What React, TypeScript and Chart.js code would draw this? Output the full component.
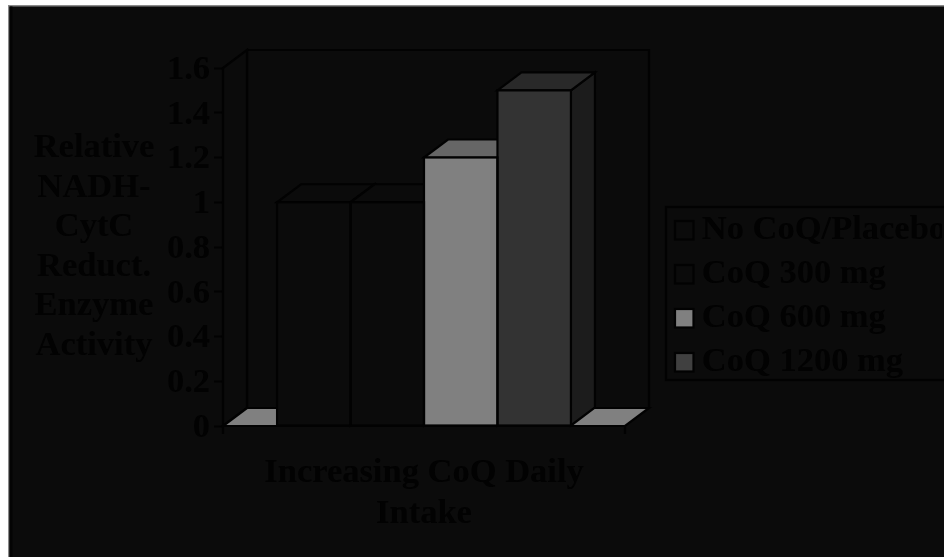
import React, { useEffect, useRef } from "react";
import { Chart, registerables } from "chart.js";

Chart.register(...registerables);

const categories = ["Increasing CoQ Daily Intake"];
const seriesLabels = ["No CoQ/Placebo", "CoQ 300 mg", "CoQ 600 mg", "CoQ 1200 mg"];
const seriesValues = [[1], [1], [1.2], [1.5]];
const frontColors = ["#0b0b0b", "#0b0b0b", "#808080", "#333333"];
const topColors = ["#0b0b0b", "#0b0b0b", "#666666", "#292929"];
const sideColors = ["#0b0b0b", "#0b0b0b", "#404040", "#1c1c1c"];
const swatchColors = ["#0b0b0b", "#0b0b0b", "#808080", "#404040"];
const yAxisTitleLines = ["Relative", "NADH-", "CytC", "Reduct.", "Enzyme", "Activity"];
const xAxisTitleLines = ["Increasing CoQ Daily", "Intake"];

const BG = "#0b0b0b";
const INK = "#020202";
const FONT = '"Liberation Serif", serif';
const FONT_SIZE = 34.5;
const DEPTH_X = 24;
const DEPTH_Y = -18;
const STROKE = 2.2;

type Pt = [number, number];

function poly(ctx: CanvasRenderingContext2D, pts: Pt[], fill: string) {
  ctx.beginPath();
  pts.forEach(([x, y], i) => (i ? ctx.lineTo(x, y) : ctx.moveTo(x, y)));
  ctx.closePath();
  ctx.fillStyle = fill;
  ctx.fill();
  ctx.lineWidth = STROKE;
  ctx.strokeStyle = INK;
  ctx.lineJoin = "miter";
  ctx.stroke();
}

// Page edge, walls and floor of the 3D box behind the columns, then column tops and sides.
const boxPlugin = {
  id: "box3d",
  afterLayout(chart: any) {
    const legend = chart.legend;
    const w = legend.right - legend.left;
    const h = legend.bottom - legend.top;
    legend.left = 655;
    legend.right = legend.left + w;
    legend.top = 198;
    legend.bottom = legend.top + h;
    legend.adjustHitBoxes();
  },
  beforeDatasetsDraw(chart: any) {
    const { ctx, chartArea: a } = chart;
    const { left: l, right: r, top: t, bottom: b } = a;
    const dx = DEPTH_X;
    const dy = DEPTH_Y;
    ctx.save();
    ctx.fillStyle = "#8a8a8a";
    ctx.fillRect(0, 0, chart.width, 1.5);
    ctx.fillRect(0, 0, 1.5, chart.height);
    ctx.fillStyle = "#040404";
    ctx.fillRect(1.5, 1.5, 3, chart.height);
    poly(ctx, [[l + dx, t + dy], [r + dx, t + dy], [r + dx, b + dy], [l + dx, b + dy]], BG);
    poly(ctx, [[l, t], [l + dx, t + dy], [l + dx, b + dy], [l, b]], BG);
    poly(ctx, [[l, b], [l + dx, b + dy], [r + dx, b + dy], [r, b]], "#808080");

    chart.data.datasets.forEach((_: any, i: number) => {
      const bar = chart.getDatasetMeta(i).data[0];
      const x0 = bar.x - bar.width / 2;
      const x1 = bar.x + bar.width / 2;
      poly(ctx, [[x1, bar.base], [x1 + dx, bar.base + dy], [x1 + dx, bar.y + dy], [x1, bar.y]], sideColors[i]);
      poly(ctx, [[x0, bar.y], [x0 + dx, bar.y + dy], [x1 + dx, bar.y + dy], [x1, bar.y]], topColors[i]);
    });
    ctx.restore();
  },
  afterDatasetsDraw(chart: any) {
    const { ctx, chartArea: a } = chart;
    ctx.save();
    ctx.strokeStyle = INK;
    ctx.lineWidth = STROKE;
    // Centred outlines, so neighbouring columns share one separator line.
    chart.data.datasets.forEach((_: any, i: number) => {
      const bar = chart.getDatasetMeta(i).data[0];
      ctx.strokeRect(bar.x - bar.width / 2, bar.y, bar.width, bar.base - bar.y);
    });
    // Baseline with its end ticks.
    ctx.beginPath();
    ctx.moveTo(a.left, a.bottom + 8);
    ctx.lineTo(a.left, a.bottom);
    ctx.lineTo(a.right, a.bottom);
    ctx.lineTo(a.right, a.bottom + 8);
    ctx.stroke();
    ctx.restore();
  },
  afterDraw(chart: any) {
    const { ctx, legend } = chart;
    ctx.save();
    // Horizontal value-axis caption, which a rotated scale title cannot give.
    ctx.font = `bold ${FONT_SIZE}px ${FONT}`;
    ctx.fillStyle = INK;
    ctx.textAlign = "center";
    ctx.textBaseline = "alphabetic";
    yAxisTitleLines.forEach((line, i) => ctx.fillText(line, 86, 152 + i * 39.6));

    // Legend frame and square swatches.
    ctx.strokeStyle = INK;
    ctx.lineWidth = STROKE;
    ctx.strokeRect(658, 202, 300, 173);
    legend.legendHitBoxes.forEach((box: any, i: number) => {
      ctx.fillStyle = swatchColors[i];
      ctx.fillRect(667, box.top + 8.5, 18.5, 18.5);
      ctx.strokeRect(667, box.top + 8.5, 18.5, 18.5);
    });
    ctx.restore();
  },
};

export default function App() {
  const ref = useRef<HTMLCanvasElement>(null);
  useEffect(() => {
    if (!ref.current) return;
    const chart = new Chart(ref.current, {
      type: "bar",
      data: {
        labels: categories,
        datasets: seriesLabels.map((label, i) => ({
          label,
          data: seriesValues[i],
          backgroundColor: frontColors[i],
          borderWidth: 0,
          barPercentage: 1,
          categoryPercentage: 0.731,
        })),
      },
      options: {
        animation: false,
        responsive: false,
        layout: { padding: { top: 63, right: 40, left: 0, bottom: 0 } },
        plugins: {
          tooltip: { enabled: false },
          legend: {
            position: "right",
            align: "start",
            maxWidth: 279,
            onClick: () => {},
            labels: {
              boxWidth: 12,
              boxHeight: 12,
              padding: 9.5,
              color: INK,
              font: { family: FONT, size: FONT_SIZE, weight: "bold", lineHeight: 1.2 },
              generateLabels: () =>
                seriesLabels.map((text, i) => ({
                  text,
                  datasetIndex: i,
                  fontColor: INK,
                  fillStyle: "transparent",
                  strokeStyle: "transparent",
                  lineWidth: 0,
                })),
            },
          },
        },
        scales: {
          x: {
            afterFit: (s: any) => {
              s.height = 131;
            },
            grid: { display: false, drawTicks: false },
            border: { display: false },
            ticks: { display: false },
            title: {
              display: true,
              text: xAxisTitleLines,
              color: INK,
              align: "center",
              font: { family: FONT, size: FONT_SIZE, weight: "bold", lineHeight: 1.2 },
              padding: { top: 0, bottom: 22 },
            },
          },
          y: {
            min: 0,
            max: 1.6,
            afterFit: (s: any) => {
              s.width = 215;
            },
            grid: { drawOnChartArea: false, tickColor: INK, tickWidth: 2, tickLength: 9 },
            border: { display: true, color: INK, width: 2 },
            ticks: {
              stepSize: 0.2,
              color: INK,
              padding: 4,
              labelOffset: 2,
              font: { family: FONT, size: FONT_SIZE, weight: "bold" },
              callback: (v: any) => String(Number(Number(v).toFixed(1))),
            },
          },
        },
      } as any,
      plugins: [boxPlugin],
    });
    return () => chart.destroy();
  }, []);
  return (
    <div style={{ position: "absolute", left: 8, top: 5, width: 936, height: 552, background: BG }}>
      <canvas ref={ref} width={936} height={552} style={{ display: "block" }} />
    </div>
  );
}
